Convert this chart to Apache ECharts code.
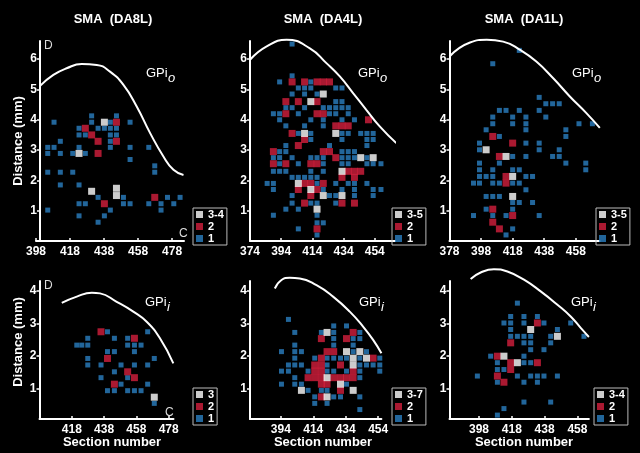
<!DOCTYPE html>
<html>
<head>
<meta charset="utf-8">
<script src="https://cdn.jsdelivr.net/npm/echarts@6/dist/echarts.min.js"></script>
</head>
<body style="margin:0;background:#000">
<div id="main" style="width:640px;height:453px"></div>
<script>
// [section, distance mm] for each labelled cell, per panel
var p1Blue = [[408.6,3.92],[404.9,3.09],[408.6,3.09],[404.9,2.89],[412.3,3.29],[412.3,2.89],[404.9,2.27],[412.3,2.27],[419.6,2.27],[412.3,1.85],[404.9,1.02],[423.3,3.72],[423.3,3.5],[427,3.5],[419.6,2.89],[423.3,3.09],[427,2.89],[430.7,4.13],[430.7,3.92],[434.5,3.72],[438.2,3.72],[441.7,3.92],[441.7,3.72],[441.7,3.5],[441.7,3.29],[441.7,3.09],[445.3,4.13],[445.3,3.72],[445.3,3.5],[453.3,3.92],[453.3,3.09],[453.3,2.69],[464.3,3.09],[467.8,2.48],[467.8,2.27],[423.3,1.85],[423.3,1.23],[427,1.23],[423.3,0.83],[434.5,1.44],[438.2,0.83],[434.5,0.62],[441.7,1.02],[449.4,1.44],[449.4,1.23],[453.3,1.23],[464.3,1.23],[471.5,1.23],[471.5,1.02],[475.3,1.44],[479,1.23],[482.7,1.44],[485.8,0.42]];
var p1Red = [[427,3.72],[430.7,3.5],[434.5,3.29],[434.5,2.89],[445.3,3.92],[445.3,3.29],[438.2,1.23],[467.8,1.44]];
var p1White = [[438.2,3.92],[423.3,2.89],[430.7,1.64],[445.3,1.74],[445.3,1.5]];
var p1Curve = [[400.4,5.12],[408.2,5.48],[416,5.7],[424.9,5.84],[433.7,5.81],[441.5,5.59],[449.4,5.15],[457.2,4.44],[465.1,3.56],[472.9,2.79],[478.8,2.35],[484.7,2.18]];

var p2Blue = [[401,6.5],[401,5.45],[393,5.25],[413,5.25],[405,5.05],[409,5.05],[413,5.05],[429,5.05],[433,5.05],[401,4.85],[409,4.85],[417,4.85],[429,4.6],[433,4.6],[397,4.4],[401,4.4],[409,4.4],[421,4.4],[425,4.4],[429,4.4],[433,4.4],[437,4.4],[389,4.2],[393,4.2],[405,4.2],[425,4.2],[429,4.2],[437,4.2],[393,4.0],[413,4.0],[421,4.0],[433,4.0],[441,4.0],[397,3.8],[409,3.8],[421,3.8],[405,3.55],[413,3.55],[433,3.55],[437,3.55],[445,3.55],[449,3.55],[453,3.55],[413,3.35],[433,3.35],[449,3.35],[453,3.35],[397,3.15],[425,3.15],[449,3.15],[393,2.95],[397,2.95],[433,2.95],[437,2.95],[441,2.95],[389,2.75],[393,2.75],[401,2.75],[413,2.75],[417,2.75],[421,2.75],[433,2.75],[437,2.75],[441,2.75],[449,2.75],[393,2.55],[405,2.55],[421,2.55],[433,2.55],[437,2.55],[449,2.55],[453,2.55],[458,2.55],[389,2.3],[393,2.3],[397,2.3],[413,2.3],[421,2.3],[401,2.1],[405,2.1],[409,2.1],[413,2.1],[417,2.1],[385,1.9],[389,1.9],[417,1.9],[429,1.9],[437,1.9],[441,1.9],[449,1.9],[389,1.7],[421,1.7],[433,1.7],[441,1.7],[453,1.7],[458,1.7],[401,1.5],[425,1.5],[429,1.5],[441,1.5],[453,1.5],[401,1.25],[413,1.25],[417,1.25],[429,1.25],[397,1.05],[405,1.05],[389,0.85],[417,0.85],[417,0.6],[421,0.6],[405,0.4],[417,0.2]];
var p2Red = [[401,5.25],[409,5.25],[417,5.25],[421,5.25],[425,5.25],[397,4.6],[405,4.6],[417,4.6],[397,4.2],[417,4.2],[421,4.2],[450,4.0],[429,3.8],[433,3.8],[437,3.8],[401,3.55],[409,3.35],[405,3.15],[389,2.95],[421,2.95],[425,2.95],[429,2.75],[389,2.55],[397,2.55],[413,2.55],[417,2.55],[437,2.3],[441,2.3],[445,2.3],[433,2.1],[441,2.1],[409,1.9],[413,1.9],[421,1.9],[405,1.7],[417,1.7],[413,1.5],[409,1.25],[433,1.25],[441,1.25],[417,0.4]];
var p2White = [[421,4.85],[413,4.6],[409,3.55],[429,3.55],[445,2.75],[453,2.75],[433,2.3],[405,1.9],[413,1.7],[421,1.5],[433,1.5],[417,1.05]];
var p2Curve = [[374,5.98],[384.7,6.42],[397.5,6.64],[412.4,6.36],[423,5.87],[431.6,5.43],[440.1,4.88],[448.6,4.33],[457.2,3.78],[467.8,3.23]];

var p3Blue = [[422.2,6.29],[405.4,5.85],[434.8,4.74],[439,4.53],[443.3,4.53],[447.5,4.53],[409.6,4.31],[413.8,4.31],[422.2,4.31],[434.8,4.31],[405.4,4.09],[418,4.09],[426.4,4.09],[439,4.09],[405.4,3.87],[418,3.87],[426.4,3.87],[460,3.87],[468.5,3.87],[401.2,3.67],[426.4,3.67],[451.7,3.67],[409.6,3.45],[451.7,3.45],[397,3.23],[426.4,3.23],[434.8,3.23],[397,3.01],[434.8,3.01],[447.5,3.01],[418,2.79],[426.4,2.79],[443.3,2.79],[447.5,2.79],[397,2.57],[409.6,2.57],[451.7,2.57],[464.3,2.57],[397,2.35],[405.4,2.35],[418,2.35],[422.2,2.35],[464.3,2.35],[397,2.13],[401.2,2.13],[405.4,2.13],[426.4,2.13],[430.6,2.13],[393.2,1.91],[397,1.91],[405.4,1.91],[409.6,1.91],[418,1.91],[422.2,1.91],[426.4,1.69],[401.2,1.47],[405.4,1.47],[409.6,1.47],[418,1.27],[422.2,1.27],[430.6,1.27],[401.2,1.05],[418,1.05],[393.2,0.84],[405.4,0.84],[413.8,0.84],[434.8,0.84],[418,0.4],[413.8,0.2]];
var p3Red = [[405.4,3.45],[418,3.23],[409.6,2.79],[413.8,2.13],[413.8,1.91],[405.4,1.05],[418,0.84],[405.4,0.62],[409.6,0.4]];
var p3White = [[401.2,3.01],[413.8,2.79],[418,2.13],[418,1.47]];
var p3Curve = [[378,6.09],[391,6.55],[401.6,6.64],[412,6.58],[422.6,6.31],[433,5.92],[443.7,5.37],[454.2,4.77],[464.7,4.22],[473.2,3.73]];

var p4Blue = [[440.1,2.74],[465,2.74],[427.9,2.54],[444.4,2.54],[452.6,2.54],[421.1,2.33],[424.2,2.33],[427.9,2.33],[452.6,2.33],[456.8,2.33],[460.9,2.33],[440.1,2.13],[444.4,2.13],[456.8,2.13],[427.9,1.92],[469.1,1.92],[427.9,1.72],[436.1,1.72],[448.5,1.72],[456.8,1.72],[465,1.72],[444.4,1.51],[436.1,1.33],[452.6,1.33],[448.5,1.13],[465,1.13],[440.1,0.93],[444.4,0.93],[452.6,0.93],[456.8,0.93],[460.9,0.93],[469.1,0.54]];
var p4Red = [[436.1,2.74],[456.8,2.54],[440.1,1.92],[452.6,1.51],[456.8,1.33],[444.4,1.13]];
var p4White = [[469.1,0.73]];
var p4Curve = [[411.8,3.63],[421.1,3.82],[430.4,3.94],[435.5,3.92],[445.8,3.66],[456.1,3.36],[464.4,3.05],[472.6,2.54],[480.9,1.77]];

var p5Blue = [[398.7,3.12],[426.6,2.92],[434.5,2.92],[402.6,2.72],[419,2.72],[426.6,2.72],[442.7,2.72],[426.6,2.53],[438.6,2.53],[442.7,2.53],[402.6,2.33],[426.6,2.33],[438.6,2.33],[394.4,2.13],[402.6,2.13],[406.7,2.13],[438.6,2.13],[446.8,2.13],[402.6,1.93],[414.9,1.93],[422.5,1.93],[426.6,1.93],[430.8,1.93],[434.5,1.93],[442.7,1.93],[455,1.93],[398.7,1.72],[402.6,1.72],[406.7,1.72],[422.5,1.72],[442.7,1.72],[446.8,1.72],[450.9,1.72],[455,1.72],[394.4,1.53],[398.7,1.53],[410.8,1.53],[422.5,1.53],[426.6,1.53],[434.5,1.53],[442.7,1.53],[455,1.53],[402.6,1.33],[442.7,1.33],[394.4,1.13],[402.6,1.13],[406.7,1.13],[434.5,1.13],[410.8,0.94],[419,0.94],[422.5,0.94],[414.9,0.74],[426.6,0.74],[430.8,0.74],[442.7,0.74],[414.9,0.54],[422.5,0.54],[442.7,0.35]];
var p5Red = [[438.6,2.72],[419,2.53],[434.5,2.53],[422.5,2.13],[426.6,2.13],[419,1.93],[450.9,1.93],[414.9,1.72],[419,1.72],[430.8,1.72],[414.9,1.53],[419,1.53],[438.6,1.53],[410.8,1.33],[414.9,1.33],[419,1.33],[426.6,1.33],[430.8,1.33],[434.5,1.33],[438.6,1.33],[419,1.13],[422.5,1.13],[430.8,0.94],[419,0.74]];
var p5White = [[422.5,2.72],[434.5,2.13],[442.7,2.13],[438.6,1.93],[446.8,1.93],[438.6,1.72],[422.5,1.33],[430.8,1.13],[406.7,0.94],[438.6,0.94],[422.5,0.74]];
var p5Curve = [[390.3,4.07],[394.4,4.33],[399.5,4.4],[405.7,4.38],[416,4.17],[426.2,3.82],[436.5,3.36],[444.7,2.9],[450.9,2.49],[456,2.08]];

var p6Blue = [[421.4,3.62],[417.3,3.21],[425.4,3.21],[433.6,3.21],[413.2,3.01],[417.3,3.01],[425.4,3.01],[437.6,3.01],[453.9,3.01],[417.3,2.81],[445.8,2.81],[417.3,2.6],[421.4,2.6],[425.4,2.6],[429.5,2.6],[441.7,2.6],[462,2.6],[425.4,2.4],[429.5,2.4],[441.7,2.4],[429.5,2.19],[437.6,2.19],[405.1,1.99],[425.4,1.99],[409.2,1.79],[425.4,1.79],[429.5,1.79],[409.2,1.58],[413.2,1.58],[397,1.38],[421.4,1.38],[429.5,1.38],[433.6,1.38],[437.6,1.38],[445.8,1.38],[409.2,1.19],[425.4,1.19],[433.6,1.19],[425.4,0.58],[441.7,0.58],[413.2,0.38],[409.2,0.18]];
var p6Red = [[433.6,3.01],[417.3,2.4],[409.2,1.99],[417.3,1.79],[433.6,1.79],[417.3,1.58],[409.2,1.38],[413.2,1.19]];
var p6White = [[429.5,2.81],[445.8,2.6],[413.2,1.99],[421.4,1.79]];
var p6Curve = [[392.9,4.36],[399,4.56],[407.1,4.66],[415.3,4.59],[425.4,4.34],[435.6,3.98],[445.8,3.57],[453.9,3.21],[460,2.86],[465,2.58]];

// tick labels
var p1XTicks = [398, 418, 438, 458, 478];
var p2XTicks = [374, 394, 414, 434, 454];
var p3XTicks = [378, 398, 418, 438, 458];
var p4XTicks = [418, 438, 458, 478];
var p5XTicks = [394, 414, 434, 454];
var p6XTicks = [398, 418, 438, 458];
var topYTicks = [1, 2, 3, 4, 5, 6];
var botYTicks = [1, 2, 3, 4];

var titles = ['SMA  (DA8L)', 'SMA  (DA4L)', 'SMA  (DA1L)'];
var topClass = ['3-4', '3-5', '3-5', '3', '3-7', '3-4'];

var FONT = '"Liberation Sans", Arial, sans-serif';
var BLUE = '#2a7fc2', RED = '#d41f3d';

var panels = [
  {grid: {left: 36, top: 41, width: 148, height: 200}, x: [398, 485], y: [0, 6.6], xt: p1XTicks, yt: topYTicks, yOff: -4, blue: p1Blue, red: p1Red, white: p1White, curve: p1Curve, leg: [193, 208]},
  {grid: {left: 250, top: 41, width: 145, height: 200}, x: [374, 467], y: [0, 6.6], xt: p2XTicks, yt: topYTicks, yOff: 0, blue: p2Blue, red: p2Red, white: p2White, curve: p2Curve, leg: [392, 208]},
  {grid: {left: 449.5, top: 41, width: 150, height: 200}, x: [378, 473], y: [0, 6.6], xt: p3XTicks, yt: topYTicks, yOff: 0, blue: p3Blue, red: p3Red, white: p3White, curve: p3Curve, leg: [596, 208]},
  {grid: {left: 39.5, top: 281, width: 134, height: 138}, x: [398, 481], y: [0.06, 4.3], xt: p4XTicks, yt: botYTicks, yOff: 0, blue: p4Blue, red: p4Red, white: p4White, curve: p4Curve, leg: [193, 388]},
  {grid: {left: 250, top: 281, width: 131.4, height: 138}, x: [375, 456], y: [0.06, 4.3], xt: p5XTicks, yt: botYTicks, yOff: 0, blue: p5Blue, red: p5Red, white: p5White, curve: p5Curve, leg: [392, 388]},
  {grid: {left: 449.5, top: 281, width: 139.4, height: 138}, x: [380, 465], y: [0.06, 4.3], xt: p6XTicks, yt: botYTicks, yOff: 0, blue: p6Blue, red: p6Red, white: p6White, curve: p6Curve, leg: [594, 388]}
];

var option = {
  backgroundColor: '#000',
  animation: false,
  grid: [], xAxis: [], yAxis: [], series: [], legend: [], graphic: []
};

panels.forEach(function (p, i) {
  option.grid.push(p.grid);
  option.xAxis.push({
    gridIndex: i, type: 'value', min: p.x[0], max: p.x[1],
    axisLine: {onZero: false, lineStyle: {color: '#fff', width: 2}},
    axisTick: {customValues: p.xt, inside: true, length: 3, lineStyle: {color: '#fff', width: 1.5}},
    axisLabel: {customValues: p.xt, color: '#fff', fontWeight: 'bold', fontSize: 12, fontFamily: FONT, margin: 5},
    splitLine: {show: false}
  });
  option.yAxis.push({
    gridIndex: i, type: 'value', min: p.y[0], max: p.y[1], offset: p.yOff,
    axisLine: {onZero: false, lineStyle: {color: '#fff', width: 2}},
    axisTick: {customValues: p.yt, length: 3, lineStyle: {color: '#fff', width: 1.5}},
    axisLabel: {customValues: p.yt, color: '#fff', fontWeight: 'bold', fontSize: 12, fontFamily: FONT, margin: 3},
    splitLine: {show: false}
  });
  option.series.push(
    {name: '1', type: 'scatter', xAxisIndex: i, yAxisIndex: i, symbol: 'rect', symbolSize: 5, itemStyle: {color: BLUE}, data: p.blue},
    {name: '2', type: 'scatter', xAxisIndex: i, yAxisIndex: i, symbol: 'rect', symbolSize: 7, itemStyle: {color: RED}, data: p.red},
    {name: topClass[i], type: 'scatter', xAxisIndex: i, yAxisIndex: i, symbol: 'rect', symbolSize: 7, itemStyle: {color: '#fff'}, data: p.white},
    {name: 'outline' + i, type: 'line', xAxisIndex: i, yAxisIndex: i, smooth: true, clip: false, showSymbol: false, silent: true,
     lineStyle: {color: '#fff', width: 2}, data: p.curve}
  );
  option.legend.push({
    left: p.leg[0], top: p.leg[1], orient: 'vertical', selectedMode: false,
    data: [topClass[i], '2', '1'], icon: 'rect', itemWidth: 7, itemHeight: 7, itemGap: 1,
    padding: [1, 3, 1, 3], borderColor: '#bbb', borderWidth: 1,
    textStyle: {color: '#fff', fontSize: 11, fontWeight: 'bold', fontFamily: FONT, lineHeight: 9}
  });
});

// titles and labels
var txt = function (x, y, s, font, extra) {
  var o = {type: 'text', x: x, y: y, style: {text: s, fill: '#fff', font: font, align: 'center', verticalAlign: 'middle'}};
  for (var k in extra) o[k] = extra[k];
  return o;
};
var bold13 = 'bold 13px ' + FONT;
option.graphic.push(txt(113, 19, titles[0], bold13), txt(323, 19, titles[1], bold13), txt(524, 19, titles[2], bold13));
option.graphic.push(txt(18, 141, 'Distance (mm)', bold13, {rotation: Math.PI / 2}), txt(18, 342, 'Distance (mm)', bold13, {rotation: Math.PI / 2}));
option.graphic.push(txt(112, 442, 'Section number', bold13), txt(323, 442, 'Section number', bold13), txt(524, 442, 'Section number', bold13));

var gpiPos = [[146, 73, 'o'], [358, 73, 'o'], [572, 73, 'o'], [145, 302, 'i'], [359, 302, 'i'], [571, 302, 'i']];
gpiPos.forEach(function (g) {
  option.graphic.push({type: 'text', x: g[0], y: g[1], style: {text: 'GPi', fill: '#fff', font: '13px ' + FONT, verticalAlign: 'middle'}});
  option.graphic.push({type: 'text', x: g[0] + 22, y: g[1] + 5, style: {text: g[2], fill: '#fff', font: 'italic 13px ' + FONT, verticalAlign: 'middle'}});
});
var small = '12px ' + FONT;
option.graphic.push(
  {type: 'text', x: 44, y: 46, style: {text: 'D', fill: '#ddd', font: small, verticalAlign: 'middle'}},
  {type: 'text', x: 179, y: 234, style: {text: 'C', fill: '#ddd', font: small, verticalAlign: 'middle'}},
  {type: 'text', x: 44, y: 286, style: {text: 'D', fill: '#ddd', font: small, verticalAlign: 'middle'}},
  {type: 'text', x: 165, y: 413, style: {text: 'C', fill: '#ddd', font: small, verticalAlign: 'middle'}}
);

var chart = echarts.init(document.getElementById('main'));
chart.setOption(option);
</script>
</body>
</html>
